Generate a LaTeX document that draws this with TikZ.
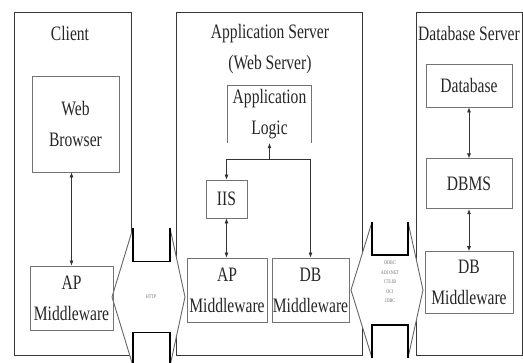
\documentclass[tikz,border=0pt]{standalone}
\usepackage{fontspec}
\setmainfont[FakeStretch=0.76]{Liberation Serif}
\usepackage{tikz}
\usetikzlibrary{arrows.meta,positioning,calc}
\definecolor{myline}{RGB}{55,55,55}
\definecolor{mygray}{RGB}{115,115,115}
\tikzset{
    tier/.style  = {draw=myline, line width=0.9pt, minimum height=343pt},
    block/.style = {draw=mygray, line width=0.8pt, align=center, inner sep=0pt},
    title/.style = {align=center},
    line/.style  = {{Latex[length=5pt,width=4pt]}-{Latex[length=5pt,width=4pt]},
            line width=0.7pt, draw=black!80},
    oneway/.style = {-{Latex[length=5pt,width=4pt]}, line width=0.7pt, draw=black!80},
    proto/.style = {font=\fontsize{5.5}{9.5}\selectfont, text=black!55, align=center},
    pipeHead/.style = {draw=black!60, line width=0.9pt},
    pipeBody/.style = {draw=black, line width=1.2pt},
}

\begin{document}
\begin{tikzpicture}[x=1pt, y=1pt, font=\fontsize{20.5}{31}\selectfont, text=black!85]
    \clip (0,0) rectangle (523,363);

    % Tiers
    \node[tier, minimum width=117pt] (client) at (72.5,179.5) {};
    \node[tier, minimum width=186pt] (appsrv) at (269,179.5) {};
    \node[tier, minimum width=106pt] (dbsrv) at (469,179.5) {};

    % Pipes between the tiers
    \fill[white] (112,66) -- (133,135) -- (133,101.5) -- (170,101.5) -- (170,135) -- (185,66)
        -- (170,-3) -- (170,30.5) -- (133,30.5) -- (133,-3) -- cycle;
    \draw[pipeHead] (133,135) -- (112,66) -- (133,-3) (170,135) -- (185,66) -- (170,-3);
    \draw[pipeBody] (133,135) -- (133,101.5) -- (170,101.5) -- (170,135)
        (133,-3) -- (133,30.5) -- (170,30.5) -- (170,-3);
    \fill[white] (351,73) -- (372,141) -- (372,108) -- (408,108) -- (408,141) -- (423,73)
        -- (408,5) -- (408,38) -- (372,38) -- (372,5) -- cycle;
    \draw[pipeHead] (372,141) -- (351,73) -- (372,5) (408,141) -- (423,73) -- (408,5);
    \draw[pipeBody] (372,141) -- (372,108) -- (408,108) -- (408,141)
        (372,5) -- (372,38) -- (408,38) -- (408,5);
    \node[proto] (http) at (151,66) {HTTP};
    \node[proto] (dbapi) at (390,81) {ODBC\\ADO.NET\\CTLIB\\OCI\\JDBC};

    % Nodes
    \node[title] (clientT) at (70,330) {Client};
    \node[title] (appT) at (270,314) {Application Server\\(Web Server)};
    \node[title] (dbT) at (469,330) {Database Server};

    \node[block, minimum width=87pt, minimum height=96pt] (browser) at (75.5,239) {Web\\Browser};
    \node[block, minimum width=83pt, minimum height=64pt] (apmwC) at (71.5,65) {AP\\Middleware};

    \node[minimum width=83pt, minimum height=57pt, align=center, inner sep=0pt] (logic) at (269.5,248.5) {Application\\Logic};
    \draw[draw=mygray, line width=0.8pt] (logic.south west) |- (logic.north east) -- (logic.south east);
    \node[block, minimum width=41pt, minimum height=38pt] (iis) at (226.5,164) {IIS};
    \node[block, minimum width=80pt, minimum height=64pt] (apmwS) at (227,73) {AP\\Middleware};
    \node[block, minimum width=77pt, minimum height=64pt] (dbmwS) at (310.5,73) {DB\\Middleware};

    \node[block, minimum width=86pt, minimum height=43pt] (db) at (469,277.5) {Database};
    \node[block, minimum width=86pt, minimum height=50pt, below=51pt of db] (dbms) {DBMS};
    \node[block, minimum width=88pt, minimum height=62pt, below=42pt of dbms] (dbmwD) {DB\\Middleware};

    % Arrows
    \draw[line] (browser.south -| apmwC.north) -- (apmwC.north);
    \coordinate (split) at ($(logic.south)+(0,-16)$);
    \draw[line] (logic.south) -- (split) -| (iis.north);
    \draw[oneway] (split) -| (dbmwS.north);
    \draw[line] (iis.south) -- (iis.south |- apmwS.north);
    \draw[line] (db) -- (dbms);
    \draw[line] (dbms) -- (dbmwD);
\end{tikzpicture}
\end{document}
